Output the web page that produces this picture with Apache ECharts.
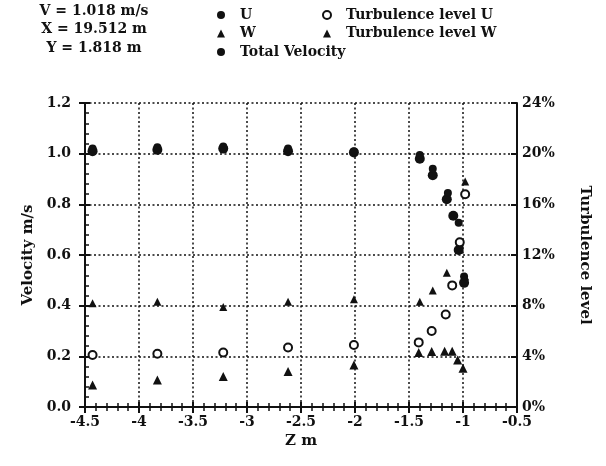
<!DOCTYPE html>
<html>
<head>
<meta charset="utf-8">
<script src="https://cdn.jsdelivr.net/npm/echarts@6/dist/echarts.min.js"></script>
<style>
  html, body { margin: 0; padding: 0; background: #fff; }
  #chart { width: 606px; height: 466px; }
</style>
</head>
<body>
<div id="chart"></div>
<script>
// values: [Z (m), value]
var uData = [[-4.43, 1.01], [-3.83, 1.015], [-3.22, 1.02], [-2.62, 1.01], [-2.01, 1.005],
    [-1.40, 0.98], [-1.28, 0.915], [-1.15, 0.82], [-1.09, 0.755], [-1.04, 0.62], [-0.99, 0.49]];
var wData = [[-4.43, 0.087], [-3.83, 0.107], [-3.22, 0.12], [-2.62, 0.14], [-2.01, 0.166],
    [-1.41, 0.215], [-1.29, 0.219], [-1.17, 0.22], [-1.10, 0.22], [-1.05, 0.186], [-1.00, 0.153]];
var totalData = [[-4.43, 1.02], [-3.83, 1.025], [-3.22, 1.028], [-2.62, 1.02], [-2.01, 1.01],
    [-1.40, 0.995], [-1.28, 0.94], [-1.14, 0.845], [-1.04, 0.727], [-1.03, 0.64], [-0.99, 0.515]];
// turbulence levels in percent (right axis)
var turbUData = [[-4.43, 4.1], [-3.83, 4.2], [-3.22, 4.3], [-2.62, 4.7], [-2.01, 4.9],
    [-1.41, 5.1], [-1.29, 6.0], [-1.16, 7.3], [-1.10, 9.6], [-1.03, 13.0], [-0.98, 16.8]];
var turbWData = [[-4.43, 8.2], [-3.83, 8.3], [-3.22, 7.9], [-2.62, 8.3], [-2.01, 8.5],
    [-1.40, 8.3], [-1.28, 9.2], [-1.15, 10.6], [-0.98, 10.3], [-1.04, 12.4], [-0.98, 17.8]];

var headerLines = ["V = 1.018 m/s", "X = 19.512 m", "Y = 1.818 m"];

var FONT = "DejaVu Serif";
var INK = "#111";

var chart = echarts.init(document.getElementById("chart"), null, { renderer: "canvas" });

function gridLine() {
    return { show: true, lineStyle: { color: INK, width: 1.5, type: [2, 2.5] } };
}

function labelStyle() {
    return { color: INK, fontFamily: FONT, fontWeight: "bold", fontSize: 14 };
}

function nameStyle() {
    return { color: INK, fontFamily: FONT, fontWeight: "bold", fontSize: 15 };
}

// axis that only carries the outer half of the major ticks
function outerTicks(pos, min, max, interval) {
    return {
        type: "value", position: pos, min: min, max: max, interval: interval,
        axisLine: { show: false },
        axisTick: { show: true, length: 6, lineStyle: { color: INK, width: 2 } },
        axisLabel: { show: false },
        splitLine: { show: false }
    };
}

var graphics = [];
for (var i = 0; i < headerLines.length; i++) {
    graphics.push({
        type: "text", x: 94, y: 4 + i * 18.5,
        style: { text: headerLines[i], fill: INK, font: "bold 14px '" + FONT + "'", textAlign: "center" }
    });
}

var legendText = { color: INK, fontFamily: FONT, fontWeight: "bold", fontSize: 14, padding: [0, 0, 0, 10] };

var option = {
    animation: false,
    backgroundColor: "#fff",
    grid: { left: 85, right: 89, top: 103, bottom: 59 },
    legend: [{
        orient: "vertical", left: 212, top: 3, itemGap: 4.5, itemWidth: 8, itemHeight: 8,
        textStyle: legendText,
        data: ["U", "W", "Total Velocity"]
    }, {
        orient: "vertical", left: 317, top: 3, itemGap: 4.5, itemWidth: 8, itemHeight: 8,
        textStyle: legendText,
        data: ["Turbulence level U", "Turbulence level W"]
    }],
    graphic: graphics,
    xAxis: [{
        type: "value", position: "bottom", min: -4.5, max: -0.5, interval: 0.5,
        name: "Z m", nameLocation: "middle", nameGap: 27,
        nameTextStyle: nameStyle(),
        axisLine: { lineStyle: { color: INK, width: 2 } },
        axisTick: { inside: true, length: 5, lineStyle: { color: INK, width: 2 } },
        minorTick: { show: true, splitNumber: 5, length: 4, lineStyle: { color: INK, width: 1.5 } },
        axisLabel: labelStyle(),
        splitLine: gridLine()
    }, {
        type: "value", position: "top", min: -4.5, max: -0.5, interval: 0.5,
        axisLine: { lineStyle: { color: INK, width: 2 } },
        axisTick: { inside: true, length: 5, lineStyle: { color: INK, width: 2 } },
        minorTick: { show: true, splitNumber: 5, length: 4, lineStyle: { color: INK, width: 1.5 } },
        axisLabel: { show: false },
        splitLine: { show: false }
    }, outerTicks("bottom", -4.5, -0.5, 0.5)],
    yAxis: [{
        type: "value", position: "left", min: 0, max: 1.2, interval: 0.2,
        name: "Velocity m/s", nameLocation: "middle", nameGap: 48,
        nameTextStyle: nameStyle(),
        axisLine: { show: true, lineStyle: { color: INK, width: 2 } },
        axisTick: { show: true, inside: true, length: 5, lineStyle: { color: INK, width: 2 } },
        minorTick: { show: true, splitNumber: 5, length: 4, lineStyle: { color: INK, width: 1.5 } },
        axisLabel: {
            color: INK, fontFamily: FONT, fontWeight: "bold", fontSize: 14, margin: 14,
            formatter: function (v) { return v.toFixed(1); }
        },
        splitLine: gridLine()
    }, {
        type: "value", position: "right", min: 0, max: 24, interval: 4,
        name: "Turbulence level", nameLocation: "middle", nameGap: 60, nameRotate: -90,
        nameTextStyle: nameStyle(),
        axisLine: { show: true, lineStyle: { color: INK, width: 2 } },
        axisTick: { show: true, inside: true, length: 6, lineStyle: { color: INK, width: 2 } },
        axisLabel: {
            color: INK, fontFamily: FONT, fontWeight: "bold", fontSize: 14, margin: 5,
            formatter: "{value}%"
        },
        splitLine: { show: false }
    }, outerTicks("left", 0, 1.2, 0.2)],
    series: [{
        name: "U", type: "scatter", data: uData, symbol: "circle", symbolSize: 10,
        itemStyle: { color: INK, opacity: 1 }
    }, {
        name: "W", type: "scatter", data: wData, symbol: "triangle", symbolSize: 9,
        itemStyle: { color: INK, opacity: 1 }
    }, {
        name: "Total Velocity", type: "scatter", data: totalData, symbol: "circle", symbolSize: 8,
        itemStyle: { color: INK, opacity: 1 }
    }, {
        name: "Turbulence level U", type: "scatter", yAxisIndex: 1, data: turbUData,
        symbol: "emptyCircle", symbolSize: 8,
        itemStyle: { color: INK, borderColor: INK, borderWidth: 2.2, opacity: 1 }
    }, {
        name: "Turbulence level W", type: "scatter", yAxisIndex: 1, data: turbWData,
        symbol: "triangle", symbolSize: 8,
        itemStyle: { color: INK, opacity: 1 }
    }]
};

chart.setOption(option);
</script>
</body>
</html>
